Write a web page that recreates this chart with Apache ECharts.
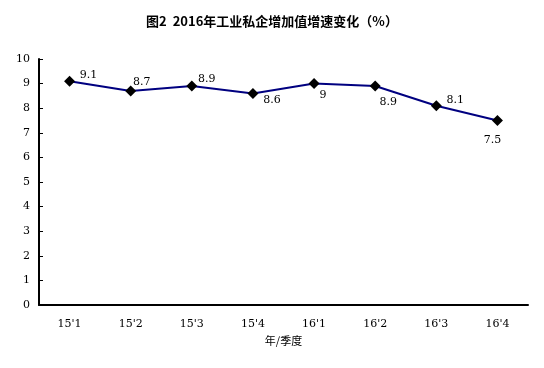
<!DOCTYPE html>
<html><head><meta charset="utf-8">
<script src="https://cdn.jsdelivr.net/npm/echarts@6/dist/echarts.min.js"></script>
<style>html,body{margin:0;padding:0;background:#fff}#c{width:544px;height:368px}</style>
</head><body><div id="c"></div>
<script>
const categories = ["15'1","15'2","15'3","15'4","16'1","16'2","16'3","16'4"];
const values = [9.1, 8.7, 8.9, 8.6, 9, 8.9, 8.1, 7.5];
const yTicks = [0,1,2,3,4,5,6,7,8,9,10];
const labelText = ["9.1","8.7","8.9","8.6","9","8.9","8.1","7.5"];
const labelPos = [[19,-6],[11,-9],[15,-7],[19,7],[9,12],[13,16],[19,-6],[-5,20]];

const chart = echarts.init(document.getElementById('c'));
const font = "'Noto Sans CJK SC', 'DejaVu Serif', serif";
chart.setOption({
  animation:false,
  title:{text:'图2  2016年工业私企增加值增速变化（%）',left:'center',top:10,
    textStyle:{fontSize:13,fontWeight:'bold',color:'#000',fontFamily:font}},
  grid:{left:39,right:16,top:59,bottom:63},
  xAxis:{type:'category',data:categories,boundaryGap:true,
    name:'年/季度',nameLocation:'middle',nameGap:29,
    nameTextStyle:{color:'#000',fontSize:11,fontFamily:font},
    axisLine:{lineStyle:{color:'#000',width:2}},
    axisTick:{inside:true,length:4,lineStyle:{color:'#000',width:1}},
    axisLabel:{color:'#000',fontSize:11,margin:14,fontFamily:"'DejaVu Serif', serif"}},
  yAxis:{type:'value',min:0,max:10,interval:1,
    axisLine:{show:true,lineStyle:{color:'#000',width:2}},
    axisTick:{show:true,inside:true,length:4,lineStyle:{color:'#000',width:1}},
    splitLine:{show:false},
    axisLabel:{color:'#000',fontSize:11,margin:9,fontFamily:"'DejaVu Serif', serif",
      formatter:v=>yTicks.includes(v)?String(v):''}},
  series:[{type:'line',data:values.map((v,i)=>({value:v,label:{show:true,
      formatter:labelText[i],offset:labelPos[i],position:'inside'}})),
    lineStyle:{color:'#000080',width:2},
    symbol:'diamond',symbolSize:11,itemStyle:{color:'#000'},
    label:{color:'#000',fontSize:11,fontFamily:"'DejaVu Serif', serif"}}]
});
</script></body></html>
